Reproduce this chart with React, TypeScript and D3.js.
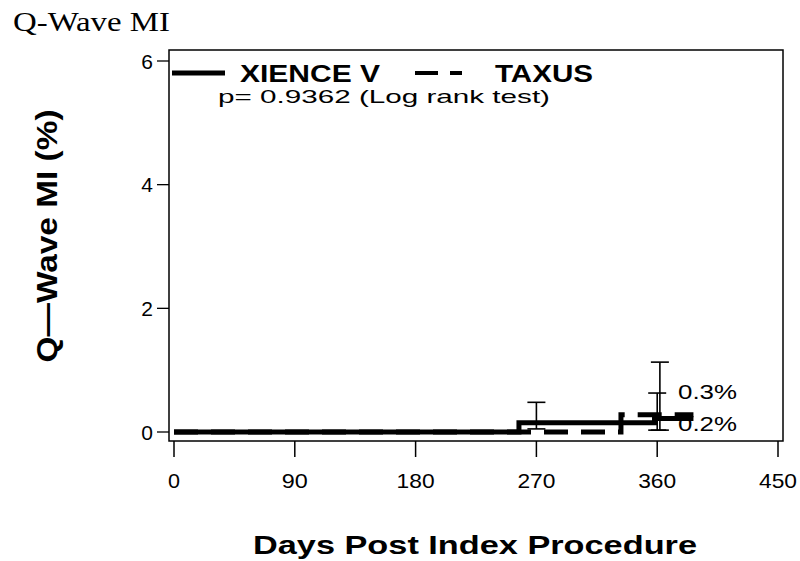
import { useMemo } from "react";
import * as d3 from "d3";

const WIDTH = 800;
const HEIGHT = 561;

// frame of the plot, in page pixels
const FRAME = { left: 169, top: 50, right: 783, bottom: 441 };

// Kaplan-Meier style step curves (days, %)
const xienceDays = [0, 257, 358, 387];
const xienceRates = [0, 0.15, 0.22, 0.22];
const taxusDays = [0, 333, 387];
const taxusRates = [0, 0.28, 0.28];

// confidence bars
const xienceBarDays = [270, 360];
const xienceBarLow = [0.05, 0.03];
const xienceBarHigh = [0.48, 0.63];
const taxusBarDays = [362];
const taxusBarLow = [0.03];
const taxusBarHigh = [1.13];

const xTicks = [0, 90, 180, 270, 360, 450];
const yTicks = [0, 2, 4, 6];

const endLabels = ["0.3%", "0.2%"];
const endLabelRates = [0.52, 0.0];

const SANS = "'Liberation Sans', Arial, Helvetica, sans-serif";

export default function App() {
  const xScale = useMemo(
    () => d3.scaleLinear().domain([0, 450]).range([174, 778]),
    []
  );
  const yScale = useMemo(
    () => d3.scaleLinear().domain([0, 6]).range([432, 61]),
    []
  );

  const stepLine = d3
    .line<[number, number]>()
    .x((d) => xScale(d[0]))
    .y((d) => yScale(d[1]))
    .curve(d3.curveStepAfter);

  const xiencePath = stepLine(xienceDays.map((d, i) => [d, xienceRates[i]]));
  const taxusPath = stepLine(taxusDays.map((d, i) => [d, taxusRates[i]]));

  const bar = (day: number, lo: number, hi: number, key: string) => {
    const x = xScale(day);
    return (
      <g key={key} stroke="#000" strokeWidth={1.6}>
        <line x1={x} x2={x} y1={yScale(lo)} y2={yScale(hi)} />
        <line x1={x - 9} x2={x + 9} y1={yScale(hi)} y2={yScale(hi)} />
        <line x1={x - 9} x2={x + 9} y1={yScale(lo)} y2={yScale(lo)} />
      </g>
    );
  };

  return (
    <svg width={WIDTH} height={HEIGHT} style={{ position: "absolute", left: 0, top: 0 }}>
      <rect width={WIDTH} height={HEIGHT} fill="#fff" />

      {/* page title */}
      <text
        x={13}
        y={31}
        fontFamily="'Liberation Serif', 'Times New Roman', serif"
        fontSize={28}
        textLength={157}
        lengthAdjust="spacingAndGlyphs"
      >
        Q-Wave MI
      </text>

      {/* frame */}
      <rect
        x={FRAME.left}
        y={FRAME.top}
        width={FRAME.right - FRAME.left}
        height={FRAME.bottom - FRAME.top}
        fill="none"
        stroke="#000"
        strokeWidth={1.5}
      />

      {/* y axis */}
      {yTicks.map((t) => (
        <g key={"y" + t}>
          <line x1={157} x2={FRAME.left} y1={yScale(t)} y2={yScale(t)} stroke="#000" strokeWidth={1.3} />
          <text
            x={153}
            y={yScale(t)}
            dy="0.36em"
            textAnchor="end"
            fontFamily={SANS}
            fontSize={21}
          >
            {t}
          </text>
        </g>
      ))}

      {/* x axis */}
      {xTicks.map((t) => (
        <g key={"x" + t}>
          <line x1={xScale(t)} x2={xScale(t)} y1={FRAME.bottom} y2={457} stroke="#000" strokeWidth={1.5} />
          <text
            x={xScale(t)}
            y={488}
            textAnchor="middle"
            fontFamily={SANS}
            fontSize={21}
            textLength={t < 10 ? 12 : t < 100 ? 26 : 38}
            lengthAdjust="spacingAndGlyphs"
          >
            {t}
          </text>
        </g>
      ))}

      {/* axis titles */}
      <text
        x={475}
        y={554}
        textAnchor="middle"
        fontFamily={SANS}
        fontWeight="bold"
        fontSize={26}
        textLength={444}
        lengthAdjust="spacingAndGlyphs"
      >
        Days Post Index Procedure
      </text>
      <text
        transform="translate(57,236) rotate(-90)"
        textAnchor="middle"
        fontFamily={SANS}
        fontWeight="bold"
        fontSize={30}
        textLength={253}
        lengthAdjust="spacingAndGlyphs"
      >
        Q—Wave MI  (%)
      </text>

      {/* curves */}
      {taxusPath && (
        <path d={taxusPath} fill="none" stroke="#000" strokeWidth={5} strokeDasharray="24 13" />
      )}
      {xiencePath && <path d={xiencePath} fill="none" stroke="#000" strokeWidth={5} />}

      {/* error bars */}
      {xienceBarDays.map((d, i) => bar(d, xienceBarLow[i], xienceBarHigh[i], "xb" + i))}
      {taxusBarDays.map((d, i) => bar(d, taxusBarLow[i], taxusBarHigh[i], "tb" + i))}

      {/* end labels */}
      {endLabels.map((l, i) => (
        <text
          key={l}
          x={678}
          y={yScale(endLabelRates[i]) - 1}
          fontFamily={SANS}
          fontSize={21}
          textLength={59}
          lengthAdjust="spacingAndGlyphs"
        >
          {l}
        </text>
      ))}

      {/* legend */}
      <line x1={172} x2={225} y1={73} y2={73} stroke="#000" strokeWidth={5} />
      <text
        x={240}
        y={82}
        fontFamily={SANS}
        fontWeight="bold"
        fontSize={24}
        textLength={140}
        lengthAdjust="spacingAndGlyphs"
      >
        XIENCE V
      </text>
      <line x1={415} x2={462} y1={73} y2={73} stroke="#000" strokeWidth={4} strokeDasharray="23 12" />
      <text
        x={495}
        y={82}
        fontFamily={SANS}
        fontWeight="bold"
        fontSize={24}
        textLength={98}
        lengthAdjust="spacingAndGlyphs"
      >
        TAXUS
      </text>
      <text
        x={218}
        y={103}
        fontFamily={SANS}
        fontSize={19}
        textLength={332}
        lengthAdjust="spacingAndGlyphs"
      >
        p= 0.9362  (Log rank test)
      </text>
    </svg>
  );
}
